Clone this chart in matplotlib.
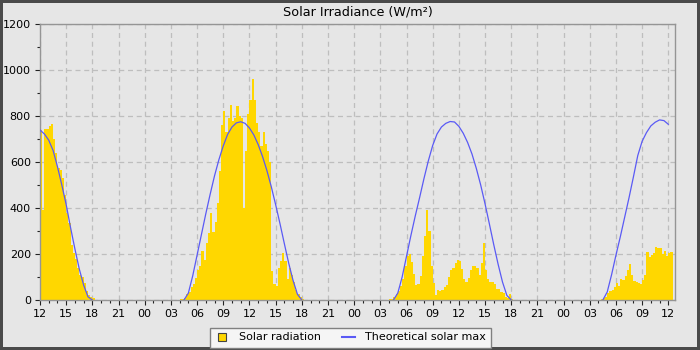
import pandas as pd
import matplotlib
matplotlib.use('Agg')
import matplotlib.pyplot as plt
import matplotlib.dates as mdates
from matplotlib.lines import Line2D

# solar radiation, 15 min bars (W/m2), each day starts at its own time
rad_day1_start = '2023-05-01 12:00'
rad_day1 = [740, 390, 745, 745, 755, 765, 700, 640, 575, 565, 530, 455, 380,
            335, 240, 205, 180, 140, 110, 100, 75, 40, 22, 15, 8]

rad_day2_start = '2023-05-02 04:00'
rad_day2 = [3, 5, 10, 25, 35, 55, 70, 95, 130, 150, 215, 175, 250, 290, 380, 295,
            340, 420, 560, 760, 820, 730, 790, 850, 780, 790, 845, 800, 790, 400,
            650, 810, 870, 960, 870, 770, 730, 670, 730, 680, 650, 600, 125, 70,
            60, 140, 170, 205, 170, 90, 140, 110, 80, 45, 28, 12, 3]

rad_day3_start = '2023-05-03 04:00'
rad_day3 = [3, 5, 12, 25, 40, 60, 90, 150, 190, 200, 165, 115, 65, 70, 105, 190,
            280, 390, 300, 150, 75, 20, 42, 38, 45, 55, 65, 100, 130, 140, 160, 175,
            170, 135, 90, 80, 95, 130, 150, 148, 140, 110, 160, 250, 130, 90, 80, 80,
            70, 50, 50, 35, 30, 15, 8, 25, 5]

rad_day4_start = '2023-05-04 04:00'
rad_day4 = [2, 4, 8, 15, 30, 40, 45, 55, 72, 60, 92, 85, 105, 130, 158, 110,
            82, 80, 75, 70, 85, 110, 210, 185, 195, 205, 230, 228, 225, 200, 215, 190,
            205, 210]

# theoretical max, 30 min steps
theo_day1_start = '2023-05-01 12:00'
theo_day1 = [739, 722, 695, 650, 580, 500, 415, 315, 222, 135, 65, 14, 0]

theo_day2_start = '2023-05-02 04:30'
theo_day2 = [0, 30, 105, 195, 285, 375, 460, 540, 610, 670, 720, 752, 770, 775,
             768, 748, 718, 676, 624, 563, 493, 415, 332, 245, 160, 85, 25, 0]

theo_day3_start = '2023-05-03 04:30'
theo_day3 = [0, 30, 100, 190, 280, 365, 445, 528, 605, 672, 722, 752, 768, 776,
             774, 755, 725, 685, 635, 572, 500, 418, 330, 240, 155, 78, 20, 0]

theo_day4_start = '2023-05-04 04:30'
theo_day4 = [0, 35, 110, 195, 275, 360, 445, 535, 628, 690, 728, 757, 773, 783,
             780, 764]

rad_sets = [(rad_day1_start, rad_day1), (rad_day2_start, rad_day2),
            (rad_day3_start, rad_day3), (rad_day4_start, rad_day4)]
theo_sets = [(theo_day1_start, theo_day1), (theo_day2_start, theo_day2),
             (theo_day3_start, theo_day3), (theo_day4_start, theo_day4)]

bg = '#e6e6e6'
bar_col = '#ffd700'
line_col = '#5a5af5'
label_size = 8

fig = plt.figure(figsize=(7, 3.5), dpi=100)
fig.patch.set_facecolor(bg)
fig.patch.set_edgecolor('#4a4a4a')
fig.patch.set_linewidth(4)
ax = fig.add_axes([40/700., 50/350., 635/700., 276/350.])
ax.set_facecolor(bg)

w = pd.Timedelta(minutes=15)
for start, vals in rad_sets:
    tt = pd.date_range(start, periods=len(vals), freq='15min')
    ax.bar(tt, vals, width=w, align='edge', color=bar_col, linewidth=0, zorder=2)

for start, vals in theo_sets:
    tt = pd.date_range(start, periods=len(vals), freq='30min')
    ax.plot(tt, vals, color=line_col, linewidth=0.9, zorder=3)

ax.set_xlim(pd.Timestamp('2023-05-01 12:00'), pd.Timestamp('2023-05-04 12:46'))
ax.set_ylim(0, 1200)
ax.set_yticks(range(0, 1201, 200))
ax.set_yticks(range(100, 1200, 200), minor=True)
ax.xaxis.set_major_locator(mdates.HourLocator(byhour=range(0, 24, 3)))
ax.xaxis.set_minor_locator(mdates.HourLocator())
ax.xaxis.set_major_formatter(mdates.DateFormatter('%H'))

ax.grid(True, which='major', color='#bebebe', linestyle=(0, (4, 3)), linewidth=0.9, zorder=0)
ax.set_axisbelow(True)
for sp in ax.spines.values():
    sp.set_color('#959595')
    sp.set_linewidth(1.0)
ax.tick_params(which='major', length=3.6, width=0.8, color='#222222',
               labelsize=label_size, pad=3)
ax.tick_params(which='minor', length=2.2, width=0.8, color='#222222')

ax.set_title(u'Solar Irradiance (W/m\u00b2)', fontsize=9.2, pad=6)

h1 = Line2D([], [], marker='s', linestyle='none', markersize=5.5,
            markerfacecolor=bar_col, markeredgecolor='#444444', markeredgewidth=0.8)
h2 = Line2D([], [], color=line_col, linewidth=1.5)
leg = fig.legend([h1, h2], ['Solar radiation', 'Theoretical solar max'],
                 loc='upper center', bbox_to_anchor=(0.501, 1 - 327.5/350.),
                 ncol=2, fontsize=label_size, fancybox=False, framealpha=1,
                 facecolor='#f5f5f5', edgecolor='#808080', handlelength=1.2,
                 columnspacing=1.9, borderpad=0.45, handletextpad=0.9,
                 borderaxespad=0)
leg.get_frame().set_linewidth(1.0)

plt.savefig('out.png', dpi=100, facecolor=fig.get_facecolor(), edgecolor=fig.get_edgecolor())
